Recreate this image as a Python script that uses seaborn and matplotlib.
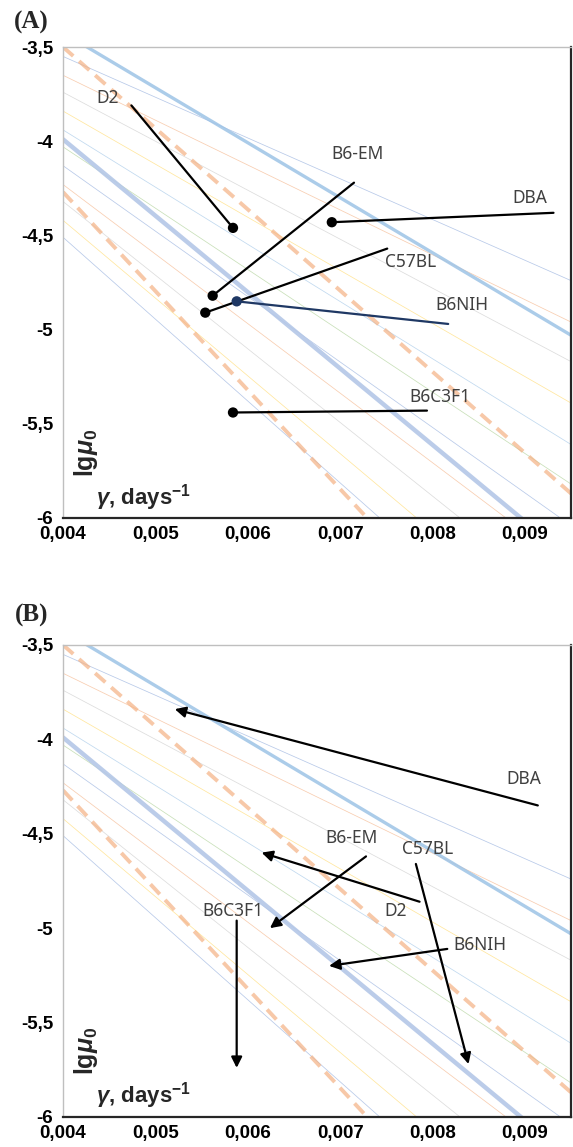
import numpy as np
import pandas as pd
import matplotlib.pyplot as plt
import seaborn as sns

# Background isolines, lg mu0 read at gamma = 0.004 (left) and gamma = 0.0095 (right)
iso_left = [-3.55, -3.65, -3.74, -3.84, -3.94, -4.03, -4.13, -4.23, -4.32, -4.42, -4.51]
iso_right = [-4.74, -4.96, -5.17, -5.39, -5.61, -5.82, -6.04, -6.26, -6.47, -6.69, -6.90]
iso_colors = ['#4472C4', '#ED7D31', '#A5A5A5', '#FFC000', '#5B9BD5', '#70AD47',
              '#4472C4', '#ED7D31', '#A5A5A5', '#FFC000', '#4472C4']

# Highlighted lines: light blue, dashed peach (upper), lavender, dashed peach (lower)
bold_left = [-3.424, -3.50, -3.99, -4.27]
bold_right = [-5.03, -5.87, -6.22, -7.16]

strains = ['D2', 'DBA', 'B6-EM', 'C57BL', 'B6NIH', 'B6C3F1']

# Panel A: strain points, end of leader line, label position
gamma_a = [0.00584, 0.00691, 0.00562, 0.00554, 0.00588, 0.00584]
lgmu_a = [-4.46, -4.43, -4.82, -4.91, -4.85, -5.44]
lead_x = [0.00474, 0.00931, 0.00715, 0.00751, 0.00817, 0.00794]
lead_y = [-3.81, -4.38, -4.22, -4.57, -4.97, -5.43]
lab_ax = [0.00448, 0.00905, 0.00719, 0.00776, 0.00832, 0.00808]
lab_ay = [-3.77, -4.30, -4.07, -4.64, -4.87, -5.36]

# Panel B: arrows (tail -> head) and label positions
tail_x = [0.00786, 0.00914, 0.00728, 0.00782, 0.00816, 0.00588]
tail_y = [-4.86, -4.35, -4.62, -4.66, -5.11, -4.96]
head_x = [0.00615, 0.00521, 0.00624, 0.00839, 0.00688, 0.00588]
head_y = [-4.60, -3.84, -5.00, -5.72, -5.20, -5.74]
lab_bx = [0.00760, 0.00899, 0.00712, 0.00795, 0.00851, 0.00584]
lab_by = [-4.91, -4.21, -4.52, -4.58, -5.09, -4.91]

xticks = [0.004, 0.005, 0.006, 0.007, 0.008, 0.009]
xticklabels = ['0,004', '0,005', '0,006', '0,007', '0,008', '0,009']
yticks = [-6, -5.5, -5, -4.5, -4, -3.5]
yticklabels = ['-6', '-5,5', '-5', '-4,5', '-4', '-3,5']

sns.set_theme(style='white')
plt.rcParams['font.family'] = ['Noto Sans', 'DejaVu Sans']
plt.rcParams['mathtext.fontset'] = 'custom'
plt.rcParams['mathtext.rm'] = 'Liberation Sans:bold'
plt.rcParams['mathtext.it'] = 'Liberation Sans:bold:italic'
BOLD = 'Liberation Sans'

fig = plt.figure(figsize=(5.73, 11.47), dpi=100)
ax_a = fig.add_axes([0.110, 0.5484, 0.8866, 0.4106])
ax_b = fig.add_axes([0.110, 0.0262, 0.8866, 0.4115])

x_ends = [0.004, 0.0095]


def draw_background(ax):
    for yl, yr, c in zip(iso_left, iso_right, iso_colors):
        sns.lineplot(x=x_ends, y=[yl, yr], ax=ax, color=c, lw=0.55, alpha=0.38)
    sns.lineplot(x=x_ends, y=[bold_left[0], bold_right[0]], ax=ax,
                 color='#9DC3E6', lw=2.4, alpha=0.85)
    sns.lineplot(x=x_ends, y=[bold_left[2], bold_right[2]], ax=ax,
                 color='#B4C7E7', lw=3.2, alpha=0.9)
    for i in (1, 3):
        line = ax.plot(x_ends, [bold_left[i], bold_right[i]], color='#F4B183',
                       lw=2.8, alpha=0.7)[0]
        line.set_dashes((3.5, 2.0))


def style_axes(ax, label_y):
    ax.set_xlim(0.004, 0.0095)
    ax.set_ylim(-6, -3.5)
    ax.set_xticks(xticks)
    ax.set_xticklabels(xticklabels, fontweight='bold', fontsize=13.5, family=BOLD)
    ax.set_yticks(yticks)
    ax.set_yticklabels(yticklabels, fontweight='bold', fontsize=13.5, family=BOLD)
    ax.tick_params(axis='both', length=0, colors='black')
    ax.tick_params(axis='x', pad=6)
    ax.tick_params(axis='y', pad=7)
    ax.set_xlabel('')
    ax.set_ylabel('')
    ax.spines['left'].set_color('#BFBFBF')
    ax.spines['top'].set_color('#BFBFBF')
    ax.spines['left'].set_linewidth(1.0)
    ax.spines['top'].set_linewidth(1.0)
    ax.spines['bottom'].set_color('#262626')
    ax.spines['right'].set_color('#262626')
    ax.spines['bottom'].set_linewidth(1.6)
    ax.spines['right'].set_linewidth(1.6)
    ax.text(0.00425, label_y, r'$\mathrm{lg}\mathit{\mu}_\mathrm{0}$', rotation=90,
            ha='center', va='center', fontsize=18)
    ax.text(0.00436, label_y - 0.235, r'$\mathit{\gamma}$, days$^{\mathrm{-1}}$',
            ha='left', va='center', fontsize=16, fontweight='bold', family=BOLD)


# ---- Panel A ----
draw_background(ax_a)
for i, s in enumerate(strains):
    col = '#1F3864' if s == 'B6NIH' else 'black'
    sns.lineplot(x=[gamma_a[i], lead_x[i]], y=[lgmu_a[i], lead_y[i]], ax=ax_a,
                 color=col, lw=1.6)
    ax_a.text(lab_ax[i], lab_ay[i], s, ha='center', va='center', fontsize=12.5,
              color='#404040')
pts = pd.DataFrame({'gamma': gamma_a, 'lgmu': lgmu_a, 'strain': strains})
sns.scatterplot(data=pts, x='gamma', y='lgmu', hue='strain', ax=ax_a, s=55,
                palette=['#1F3864' if s == 'B6NIH' else 'black' for s in strains],
                edgecolor='none', legend=False, zorder=5)
style_axes(ax_a, -5.655)

# ---- Panel B ----
draw_background(ax_b)
for i, s in enumerate(strains):
    ax_b.annotate('', xy=(head_x[i], head_y[i]), xytext=(tail_x[i], tail_y[i]),
                  arrowprops=dict(arrowstyle='-|>', color='black', lw=1.6,
                                  mutation_scale=16, shrinkA=0, shrinkB=0))
    ax_b.text(lab_bx[i], lab_by[i], s, ha='center', va='center', fontsize=12.5,
              color='#404040')
style_axes(ax_b, -5.65)

fig.text(31 / 573, 1 - 22 / 1147, '(A)', fontsize=18, fontweight='bold',
         family='Liberation Serif', ha='center', va='center')
fig.text(32 / 573, 1 - 615 / 1147, '(B)', fontsize=18, fontweight='bold',
         family='Liberation Serif', ha='center', va='center')

fig.savefig('out.png', dpi=100)
